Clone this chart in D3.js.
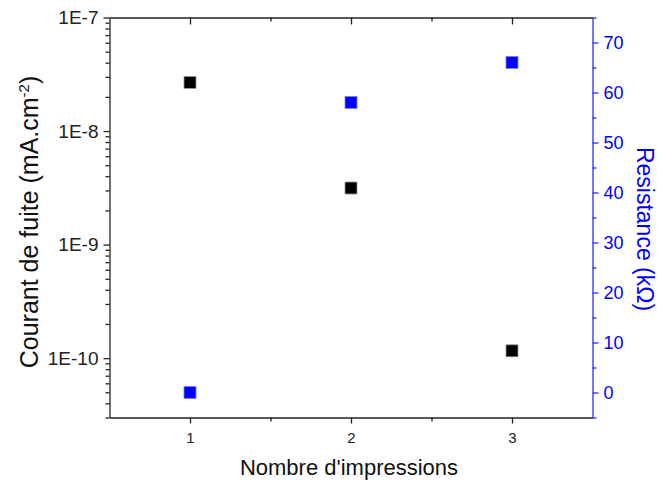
<!DOCTYPE html>
<html>
<head>
<meta charset="utf-8">
<script src="https://cdn.jsdelivr.net/npm/d3@7"></script>
<style>
  html, body { margin: 0; padding: 0; background: #fff; }
  svg { display: block; font-family: "Liberation Sans", Arial, sans-serif; }
</style>
</head>
<body>
<svg id="chart" width="664" height="486"></svg>
<script>
// ---- data ----
const impressions = [1, 2, 3];
const leakageCurrent = [2.68e-8, 3.15e-9, 1.16e-10];   // mA.cm^-2 (black, left log axis)
const resistance = [0, 58, 66];                         // kΩ (blue, right axis)
const leftTicks = [1e-10, 1e-9, 1e-8, 1e-7];
const leftTickLabels = ["1E-10", "1E-9", "1E-8", "1E-7"];
const rightTicks = [0, 10, 20, 30, 40, 50, 60, 70];
const xTicks = [1, 2, 3];

// ---- layout ----
const svg = d3.select("#chart");
const m = { left: 109.5, right: 592.5, top: 17.5, bottom: 417.5 };

const x = d3.scaleLinear().domain([0.5, 3.5]).range([m.left, m.right]);
const yL = d3.scaleLog().domain([3e-11, 1e-7]).range([m.bottom, m.top]);
const yR = d3.scaleLinear().domain([-5, 75]).range([m.bottom, m.top]);

const axisColor = "#222";
const blue = "#0000ff";
const blueAxis = "#2b2bff";
const FONT = "'Liberation Sans', Arial, sans-serif";

// minor tick values
const xMinor = [1.5, 2.5];
const leftMinor = [];
for (let e = -11; e <= -8; e++) {
  for (let k = 2; k <= 9; k++) {
    const v = k * Math.pow(10, e);
    if (v >= 3e-11 && v < 1e-7) leftMinor.push(v);
  }
}
const rightMinor = [-5, 5, 15, 25, 35, 45, 55, 65, 75];

// bottom axis
const gB = svg.append("g").attr("transform", `translate(0,${m.bottom})`);
gB.call(d3.axisBottom(x).tickValues(xTicks).tickFormat(d3.format("d")).tickSizeInner(6).tickSizeOuter(0).tickPadding(9));
gB.append("g").call(d3.axisBottom(x).tickValues(xMinor).tickFormat("").tickSizeInner(4).tickSizeOuter(0))
  .select(".domain").remove();

// top axis (ticks inside)
const gT = svg.append("g").attr("transform", `translate(0,${m.top})`);
gT.call(d3.axisBottom(x).tickValues(xTicks).tickFormat("").tickSizeInner(7).tickSizeOuter(0));
gT.append("g").call(d3.axisBottom(x).tickValues(xMinor).tickFormat("").tickSizeInner(4).tickSizeOuter(0))
  .select(".domain").remove();

// left axis (log)
const gL = svg.append("g").attr("transform", `translate(${m.left},0)`);
gL.call(d3.axisLeft(yL).tickValues(leftTicks).tickFormat((d, i) => leftTickLabels[i]).tickSizeInner(6).tickSizeOuter(0).tickPadding(5));
gL.append("g").call(d3.axisLeft(yL).tickValues(leftMinor).tickFormat("").tickSizeInner(4).tickSizeOuter(0))
  .select(".domain").remove();

[gB, gT, gL].forEach(g => {
  g.selectAll("path.domain, line").attr("stroke", axisColor).attr("stroke-width", 1.3);
  g.selectAll("text").attr("fill", "#222").style("font-family", FONT);
});
gB.selectAll("text").attr("font-size", 15);
gL.selectAll("text").attr("font-size", 19);

// right axis (blue)
const gR = svg.append("g").attr("transform", `translate(${m.right},0)`);
gR.call(d3.axisRight(yR).tickValues(rightTicks).tickFormat(d3.format("d")).tickSizeInner(6).tickSizeOuter(0).tickPadding(5));
gR.append("g").call(d3.axisRight(yR).tickValues(rightMinor).tickFormat("").tickSizeInner(4).tickSizeOuter(0))
  .select(".domain").remove();
gR.selectAll("path.domain, line").attr("stroke", blueAxis).attr("stroke-width", 1.3);
gR.selectAll("text").attr("fill", blue).attr("font-size", 18).style("font-family", FONT);

// markers
const size = 12;
svg.append("g").selectAll("rect").data(impressions).join("rect")
  .attr("x", (d) => x(d) - size / 2)
  .attr("y", (d, i) => yL(leakageCurrent[i]) - size / 2)
  .attr("width", size).attr("height", size)
  .attr("fill", "#000").attr("stroke", "#999").attr("stroke-width", 0.8);

svg.append("g").selectAll("rect").data(impressions).join("rect")
  .attr("x", (d) => x(d) - size / 2)
  .attr("y", (d, i) => yR(resistance[i]) - size / 2)
  .attr("width", size).attr("height", size)
  .attr("fill", blue).attr("stroke", "#8080ff").attr("stroke-width", 0.8);

// axis titles
svg.append("text")
  .attr("x", 349).attr("y", 475)
  .attr("text-anchor", "middle").attr("font-size", 22).attr("fill", "#111")
  .style("font-family", FONT)
  .text("Nombre d'impressions");

const lt = svg.append("text")
  .attr("transform", `translate(38,222) rotate(-90)`)
  .attr("text-anchor", "middle").attr("font-size", 25).attr("fill", "#111")
  .style("font-family", FONT);
lt.append("tspan").text("Courant de fuite (mA.cm");
lt.append("tspan").attr("dy", -9).attr("font-size", 15).text("-2");
lt.append("tspan").attr("dy", 9).text(")");

svg.append("text")
  .attr("transform", `translate(637,229) rotate(90)`)
  .attr("text-anchor", "middle").attr("font-size", 23).attr("fill", blue)
  .style("font-family", FONT)
  .text("Resistance (kΩ)");
</script>
</body>
</html>
